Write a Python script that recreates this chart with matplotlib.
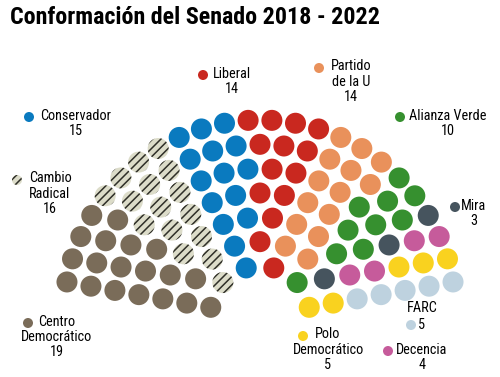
import numpy as np
import matplotlib.pyplot as plt
from matplotlib.patches import Circle

# Senado 2018 - 2022
partidos = ['Centro Democrático', 'Cambio Radical', 'Conservador', 'Liberal',
            'Partido de la U', 'Alianza Verde', 'Mira', 'Decencia',
            'Polo Democrático', 'FARC']
escanos = [19, 16, 15, 14, 14, 10, 3, 4, 5, 5]
colores = ['#7a6c59', '#dcdcc9', '#0a7abf', '#c9281f', '#e9915b',
           '#36902f', '#46545e', '#c65b9b', '#f9d21f', '#bed2df']
etiquetas = ['Centro\nDemocrático', 'Cambio\nRadical', 'Conservador', 'Liberal',
             'Partido\nde la U', 'Alianza Verde', 'Mira', 'Decencia',
             'Polo\nDemocrático', 'FARC']

fuente = ['Roboto Condensed', 'Liberation Sans Narrow', 'Roboto', 'DejaVu Sans']
plt.rcParams['hatch.linewidth'] = 1.1


def posiciones_hemiciclo(total, filas, r_min, r_max, ang_ini, ang_fin):
    radios = np.linspace(r_min, r_max, filas)
    por_fila = np.round(total * radios / radios.sum()).astype(int)
    por_fila[-1] += total - por_fila.sum()
    asientos = []
    for r, n in zip(radios, por_fila):
        for a in np.linspace(ang_ini, ang_fin, n):
            asientos.append((a, r))
    asientos.sort(key=lambda t: (-round(t[0], 6), t[1]))
    return asientos


fig = plt.figure(figsize=(5, 3.77), dpi=100)
ax = fig.add_axes([0, 0, 1, 1])
ax.set_xlim(0, 500)
ax.set_ylim(377, 0)
ax.axis('off')

cx, cy = 260, 316
asientos = posiciones_hemiciclo(sum(escanos), 7, 50, 196, np.radians(170), np.radians(10))

i = 0
for partido, n, color in zip(partidos, escanos, colores):
    for a, r in asientos[i:i + n]:
        x = cx + r * np.cos(a)
        y = cy - r * np.sin(a)
        if partido == 'Cambio Radical':
            ax.add_patch(Circle((x, y), 10.5, facecolor=color, edgecolor='#2f2f28',
                                lw=0, hatch='////'))
        else:
            ax.add_patch(Circle((x, y), 10.5, facecolor=color, lw=0))
    i += n

# etiquetas: (x del punto, y del punto, x del texto, y de la primera linea)
pos_etiquetas = {
    'Centro Democrático': (28, 323, 57, 323),
    'Cambio Radical': (17, 180, 50, 180),
    'Conservador': (29, 117, 76, 117),
    'Liberal': (203, 75, 232, 75),
    'Partido de la U': (319, 68, 351, 68),
    'Alianza Verde': (400, 117, 448, 117),
    'Mira': (455, 207, 474, 207),
    'Decencia': (388, 351, 422, 351),
    'Polo Democrático': (303, 336, 328, 336),
    'FARC': (411, 325, 422, 308),
}

for partido, n, color, texto in zip(partidos, escanos, colores, etiquetas):
    px, py, tx, ty = pos_etiquetas[partido]
    if partido == 'Cambio Radical':
        ax.add_patch(Circle((px, py), 5, facecolor=color, edgecolor='#2f2f28',
                            lw=0, hatch='////'))
    else:
        ax.add_patch(Circle((px, py), 5, facecolor=color, lw=0))
    if partido == 'FARC':
        ax.text(tx, ty, texto, ha='center', va='center', fontsize=10.3, family=fuente)
        ax.text(tx, py, str(n), ha='center', va='center', fontsize=10.3, family=fuente)
    else:
        ax.text(tx, ty - 8.5, texto + '\n' + str(n), ha='center', va='top',
                fontsize=10.3, family=fuente, linespacing=1.12)

ax.text(10, 18, 'Conformación del Senado 2018 - 2022', ha='left', va='center',
        fontsize=17.3, fontweight='bold', family=fuente)

fig.savefig('out.png', dpi=100)
